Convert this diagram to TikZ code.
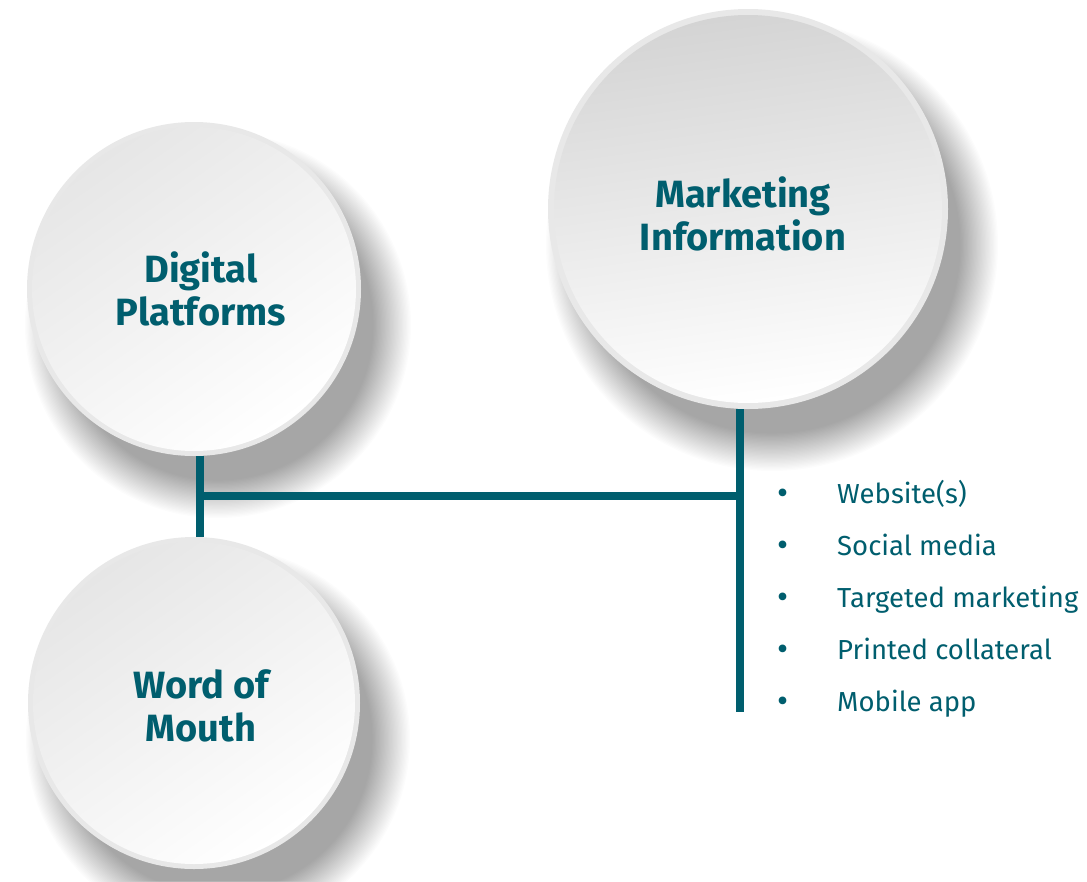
\documentclass[tikz,border=0pt]{standalone}
\usepackage{fontspec}
\setmainfont{Fira Sans}
\definecolor{teal}{RGB}{0,94,110}
\definecolor{rim}{RGB}{232,232,232}
\definecolor{innerL}{RGB}{230,230,230}
\definecolor{innerM}{RGB}{212,212,212}
\newcommand\bubshadow[2]{% center coordinate name, radius (number)
  \foreach \k in {0,...,29}{
    \fill[black, opacity=0.011, shift={(#1)}] (24,36) circle[radius={(#2+26-\k*1.3)*1pt}];
  }}
\tikzset{
  bubble/.style={circle, inner sep=0pt, fill=rim, draw=none},
  title/.style={text=teal, font=\fontsize{38}{43}\selectfont\bfseries, align=center, inner sep=0pt},
  item/.style={text=teal, font=\fontsize{27.5}{30}\selectfont, anchor=base west, inner sep=0pt},
  dot/.style={text=teal, font=\fontsize{34}{36}\selectfont, anchor=base, inner sep=0pt},
  link/.style={draw=teal, line width=7.5pt}
}
\begin{document}
\begin{tikzpicture}[x=1pt,y=-1pt]
\useasboundingbox[fill=white] (0,0) rectangle (1087,881);
\coordinate (cdp) at (194,289);
\coordinate (cwm) at (194,703);
\coordinate (cmi) at (748,209);
% shadows
\bubshadow{cdp}{167}
\bubshadow{cwm}{166}
\bubshadow{cmi}{200}
% circles
\node[bubble, minimum size=334pt] (dp) at (cdp) {};
\shade[top color=innerL, middle color=white!75!innerL, bottom color=white, shading angle=35] (dp.center) circle[radius=162pt];
\node[bubble, minimum size=332pt] (wm) at (cwm) {};
\shade[top color=innerL, middle color=white!75!innerL, bottom color=white, shading angle=35] (wm.center) circle[radius=161pt];
\node[bubble, minimum size=400pt] (mi) at (cmi) {};
\shade[top color=innerM, middle color=white!70!innerM, bottom color=white, shading angle=8] (mi.center) circle[radius=194pt];
% titles
\node[title] (dpt) at (201,289) {Digital\\Platforms};
\node[title] (wmt) at (201,706) {Word of\\Mouth};
\node[title] (mit) at (743,214) {Marketing\\Information};
% connectors
\coordinate (j1) at (200,496);
\coordinate (j2) at (740,496);
\coordinate (e2) at (740,712);
\draw[link] (dp.south -| j1) -- (wm.north -| j1);
\draw[link] (j1) -- (j2);
\draw[link] (mi.south -| j2) -- (e2);
% list
\foreach \t [count=\i from 0] in {Website(s),Social media,Targeted marketing,Printed collateral,Mobile app}{
  \node[dot] (b\i) at (783,{504+52*\i}) {•};
  \node[item] (t\i) at (837,{503+52*\i}) {\t};
}
\end{tikzpicture}
\end{document}
